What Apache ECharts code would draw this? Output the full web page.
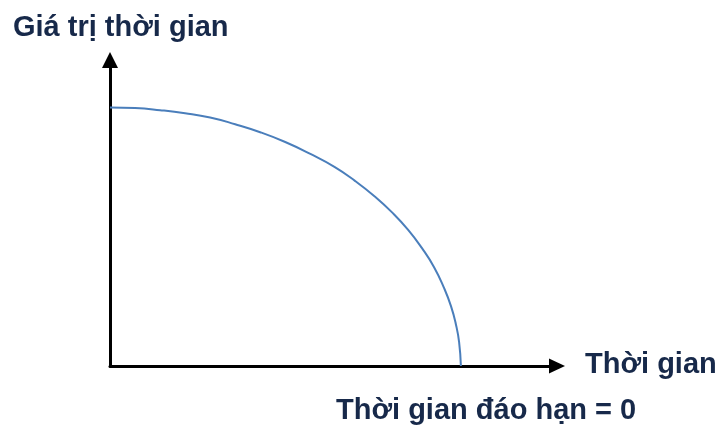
<!DOCTYPE html>
<html>
<head>
<meta charset="utf-8">
<script src="https://cdn.jsdelivr.net/npm/echarts@6/dist/echarts.min.js"></script>
<style>
html,body{margin:0;padding:0;background:#fff;}
#chart{width:722px;height:426px;}
</style>
</head>
<body>
<div id="chart"></div>
<script>
// Conceptual time-value curve (0-100 scale on both axes)
var timeValues = [0, 5.6, 11.2, 16.8, 22.4, 28.0, 33.6, 39.2, 44.7, 50.3, 54.8, 59.3, 63.1, 66.7, 69.8, 72.5, 74.7, 76.3, 77.4, 78.1, 78.5];
var timeValueLevels = [84.5, 84.3, 83.6, 82.6, 81.2, 79.0, 76.4, 73.2, 69.4, 65.0, 60.5, 55.3, 50.2, 44.5, 38.5, 32.3, 25.6, 19.5, 13.5, 7.8, 0];
var yAxisTitle = 'Giá trị thời gian';
var xAxisTitle = 'Thời gian';
var maturityLabel = 'Thời gian đáo hạn = 0';

var textColor = '#17294a';
var font = 'bold 29px "Liberation Sans", Arial, sans-serif';

var seriesData = timeValues.map(function (x, i) { return [x, timeValueLevels[i]]; });

var chart = echarts.init(document.getElementById('chart'));
chart.setOption({
  animation: false,
  backgroundColor: '#ffffff',
  grid: { left: 110, right: 165, top: 60, bottom: 60 },
  xAxis: {
    type: 'value', min: 0, max: 100,
    axisLine: { show: true, lineStyle: { color: '#000', width: 3 }, symbol: ['none', 'triangle'], symbolSize: [15, 16] },
    axisTick: { show: false }, axisLabel: { show: false }, splitLine: { show: false }
  },
  yAxis: {
    type: 'value', min: 0, max: 100,
    axisLine: { show: true, lineStyle: { color: '#000', width: 3 }, symbol: ['none', 'triangle'], symbolSize: [16, 16] },
    axisTick: { show: false }, axisLabel: { show: false }, splitLine: { show: false }
  },
  graphic: [
    { type: 'text', x: 13, y: 28, style: { text: yAxisTitle, fill: textColor, font: font, verticalAlign: 'middle' } },
    { type: 'text', x: 585, y: 365, style: { text: xAxisTitle, fill: textColor, font: font, verticalAlign: 'middle' } },
    { type: 'text', x: 336, y: 411, style: { text: maturityLabel, fill: textColor, font: font, verticalAlign: 'middle' } }
  ],
  series: [{
    type: 'line', data: seriesData, smooth: 0.5, showSymbol: false,
    lineStyle: { color: '#4a7ebb', width: 2 }
  }]
});
</script>
</body>
</html>
